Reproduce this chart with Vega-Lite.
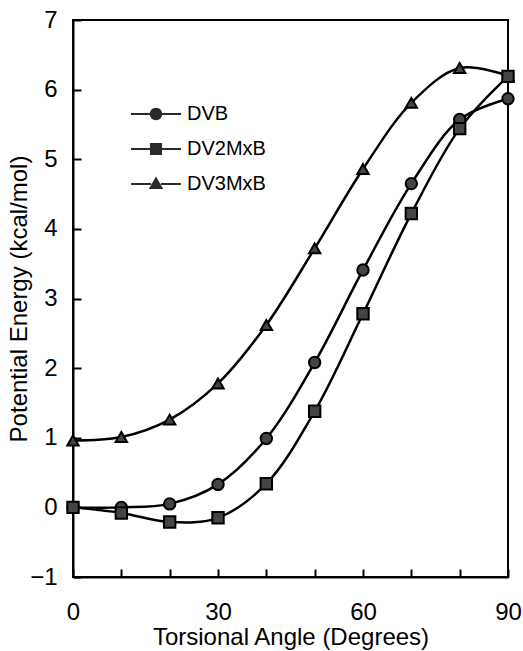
{
  "$schema": "https://vega.github.io/schema/vega-lite/v6.json",
  "width": 435,
  "height": 557,
  "autosize": "none",
  "padding": {"left": 73, "top": 20, "right": 15, "bottom": 74},
  "background": "white",
  "config": {
    "font": "Liberation Sans",
    "view": {"stroke": "black", "strokeWidth": 2},
    "axis": {
      "grid": false,
      "domainColor": "black",
      "domainWidth": 2,
      "tickColor": "black",
      "tickWidth": 2,
      "tickSize": -8,
      "labelFontSize": 24,
      "labelColor": "black",
      "labelFont": "Liberation Sans",
      "titleFont": "Liberation Sans",
      "titleFontSize": 24,
      "titleFontWeight": "normal",
      "titleColor": "black"
    },
    "legend": {
      "labelFontSize": 20,
      "labelFont": "Liberation Sans",
      "labelColor": "black"
    }
  },
  "data": {
    "values": [
      {"angle": 0, "energy": 0.96, "series": "DV3MxB"},
      {"angle": 10, "energy": 1.01, "series": "DV3MxB"},
      {"angle": 20, "energy": 1.26, "series": "DV3MxB"},
      {"angle": 30, "energy": 1.78, "series": "DV3MxB"},
      {"angle": 40, "energy": 2.62, "series": "DV3MxB"},
      {"angle": 50, "energy": 3.72, "series": "DV3MxB"},
      {"angle": 60, "energy": 4.86, "series": "DV3MxB"},
      {"angle": 70, "energy": 5.81, "series": "DV3MxB"},
      {"angle": 80, "energy": 6.31, "series": "DV3MxB"},
      {"angle": 90, "energy": 6.2, "series": "DV3MxB"},
      {"angle": 0, "energy": 0.0, "series": "DVB"},
      {"angle": 10, "energy": 0.0, "series": "DVB"},
      {"angle": 20, "energy": 0.05, "series": "DVB"},
      {"angle": 30, "energy": 0.33, "series": "DVB"},
      {"angle": 40, "energy": 0.99, "series": "DVB"},
      {"angle": 50, "energy": 2.08, "series": "DVB"},
      {"angle": 60, "energy": 3.41, "series": "DVB"},
      {"angle": 70, "energy": 4.65, "series": "DVB"},
      {"angle": 80, "energy": 5.57, "series": "DVB"},
      {"angle": 90, "energy": 5.87, "series": "DVB"},
      {"angle": 0, "energy": 0.0, "series": "DV2MxB"},
      {"angle": 10, "energy": -0.08, "series": "DV2MxB"},
      {"angle": 20, "energy": -0.21, "series": "DV2MxB"},
      {"angle": 30, "energy": -0.15, "series": "DV2MxB"},
      {"angle": 40, "energy": 0.34, "series": "DV2MxB"},
      {"angle": 50, "energy": 1.38, "series": "DV2MxB"},
      {"angle": 60, "energy": 2.78, "series": "DV2MxB"},
      {"angle": 70, "energy": 4.22, "series": "DV2MxB"},
      {"angle": 80, "energy": 5.44, "series": "DV2MxB"},
      {"angle": 90, "energy": 6.19, "series": "DV2MxB"}
    ]
  },
  "encoding": {
    "x": {
      "field": "angle",
      "type": "quantitative",
      "scale": {"domain": [0, 90], "nice": false},
      "axis": {
        "title": "Torsional Angle (Degrees)",
        "values": [0, 10, 20, 30, 40, 50, 60, 70, 80, 90],
        "labelExpr": "datum.value % 30 === 0 ? datum.label : ''",
        "labelPadding": 31,
        "titlePadding": 1,
        "labelFlush": false
      }
    },
    "y": {
      "field": "energy",
      "type": "quantitative",
      "scale": {"domain": [-1, 7], "nice": false},
      "axis": {
        "title": "Potential Energy (kcal/mol)",
        "values": [-1, 0, 1, 2, 3, 4, 5, 6, 7],
        "labelPadding": 24,
        "titlePadding": -2,
        "labelFlush": false
      }
    }
  },
  "layer": [
    {
      "mark": {"type": "line", "interpolate": "catmull-rom", "color": "black", "strokeWidth": 2.5},
      "encoding": {"detail": {"field": "series"}}
    },
    {
      "mark": {"type": "point", "filled": true, "color": "#444", "stroke": "black", "strokeWidth": 2, "opacity": 1, "size": 130},
      "encoding": {
        "shape": {
          "field": "series",
          "type": "nominal",
          "scale": {"domain": ["DVB", "DV2MxB", "DV3MxB"], "range": ["circle", "square", "triangle-up"]},
          "legend": null
        }
      }
    },
    {
      "transform": [{"filter": "false"}],
      "mark": {"type": "point", "filled": true, "color": "#2a2a2a", "opacity": 1},
      "encoding": {
        "shape": {
          "field": "series",
          "type": "nominal",
          "scale": {
            "domain": ["DVB", "DV2MxB", "DV3MxB"],
            "range": [
              "M-1,-0.04H-0.2V0.04H-1ZM0.2,-0.04H1V0.04H0.2ZM0.25,0A0.25,0.25,0,1,1,-0.25,0A0.25,0.25,0,1,1,0.25,0Z",
              "M-1,-0.04H-0.2V0.04H-1ZM0.2,-0.04H1V0.04H0.2ZM-0.24,-0.24H0.24V0.24H-0.24Z",
              "M-1,-0.04H-0.2V0.04H-1ZM0.2,-0.04H1V0.04H0.2ZM0,-0.3L0.29,0.2H-0.29Z"
            ]
          },
          "legend": {
            "title": null,
            "orient": "none",
            "legendX": 58,
            "legendY": 69,
            "symbolSize": 2500,
            "symbolStrokeWidth": 0,
            "symbolFillColor": "#2a2a2a",
            "symbolOpacity": 1,
            "labelOffset": 6,
            "rowPadding": -6.5
          }
        }
      }
    }
  ],
  "resolve": {"scale": {"shape": "independent"}}
}
